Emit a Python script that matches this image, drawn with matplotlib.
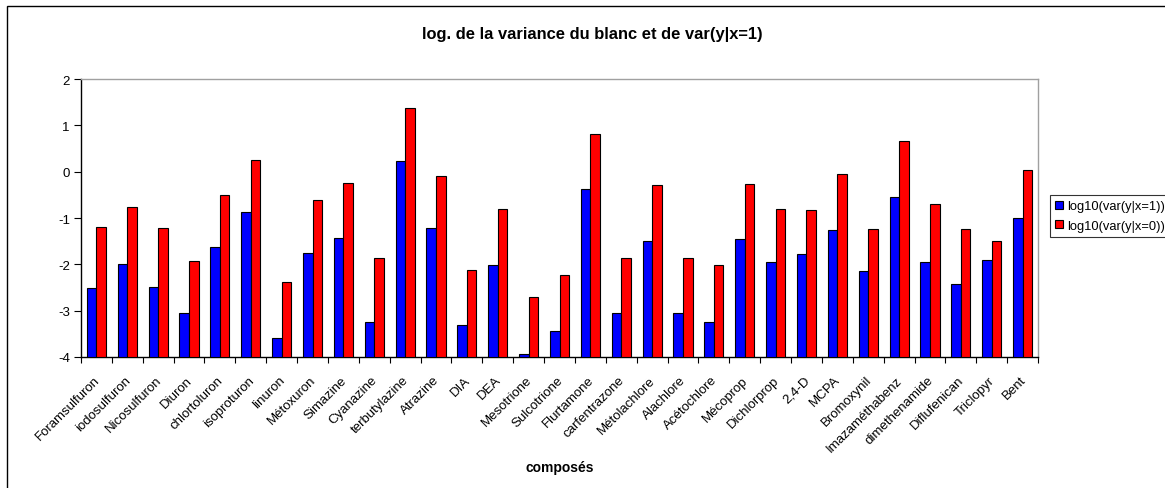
import matplotlib
matplotlib.use("Agg")
import matplotlib.pyplot as plt
import matplotlib.transforms as mtransforms
import numpy as np
from matplotlib.patches import Rectangle

plt.rcParams['font.family'] = ['Liberation Sans', 'DejaVu Sans']

categories = ["Foramsulfuron", "iodosulfuron", "Nicosulfuron", "Diuron", "chlortoluron",
              "isoproturon", "linuron", "Métoxuron", "Simazine", "Cyanazine", "terbutylazine",
              "Atrazine", "DIA", "DEA", "Mesotrione", "Sulcotrione", "Flurtamone",
              "carfentrazone", "Métolachlore", "Alachlore", "Acétochlore", "Mécoprop",
              "Dichlorprop", "2,4-D", "MCPA", "Bromoxynil", "Imazaméthabenz", "dimethenamide",
              "Diflufenican", "Triclopyr", "Bent"]

var_x1 = [-2.50, -1.99, -2.48, -3.04, -1.63, -0.87, -3.59, -1.76, -1.44, -3.25, 0.23,
          -1.22, -3.32, -2.01, -3.94, -3.43, -0.37, -3.04, -1.49, -3.04, -3.24, -1.45,
          -1.94, -1.78, -1.26, -2.14, -0.55, -1.94, -2.43, -1.91, -0.99]

var_x0 = [-1.19, -0.76, -1.22, -1.92, -0.50, 0.25, -2.38, -0.61, -0.24, -1.86, 1.38,
          -0.09, -2.12, -0.81, -2.71, -2.23, 0.82, -1.86, -0.29, -1.86, -2.01, -0.26,
          -0.81, -0.83, -0.04, -1.24, 0.67, -0.69, -1.24, -1.49, 0.04]

series_labels = ["log10(var(y|x=1))", "log10(var(y|x=0))"]
title = "log. de la variance du blanc et de var(y|x=1)"
xlabel = "composés"
yticks = [-4, -3, -2, -1, 0, 1, 2]

W, H = 1165, 489
fig = plt.figure(figsize=(W / 100, H / 100), dpi=100)
fig.patch.set_facecolor("white")

# outer chart-area frame
fig.patches.append(Rectangle((7 / W, -0.1), 1.2, 1 - 7 / H + 0.1, transform=fig.transFigure,
                             fill=False, edgecolor="black", linewidth=1.0, zorder=0))

L, R, T, B = 81, 1038, 80, 358
ax = fig.add_axes([L / W, 1 - B / H, (R - L) / W, (B - T) / H])

n = len(categories)
x = np.arange(n)
bw = 0.31
ax.bar(x - bw / 2, np.array(var_x1) - (-4), bw, bottom=-4, color="#0000FF",
       edgecolor="black", linewidth=0.8, label=series_labels[0], zorder=3)
ax.bar(x + bw / 2, np.array(var_x0) - (-4), bw, bottom=-4, color="#FF0000",
       edgecolor="black", linewidth=0.8, label=series_labels[1], zorder=3)

ax.set_xlim(-0.5, n - 0.5)
ax.set_ylim(-4, 2)
ax.set_yticks(yticks)
ax.set_yticklabels([str(v) for v in yticks], fontsize=9.5)
ax.set_xticks(np.arange(n + 1) - 0.5)
ax.set_xticklabels([])
ax.set_xticks(x, minor=True)
ax.set_xticklabels(categories, minor=True, rotation=45, ha="right", va="top",
                   rotation_mode="anchor", fontsize=9.5)
ax.tick_params(axis="x", which="minor", length=0, pad=12)
ax.tick_params(axis="x", which="major", length=4, width=0.8, direction="out", color="black")
ax.tick_params(axis="y", length=5, width=0.8, direction="out", pad=3)

offset = mtransforms.ScaledTranslation(-3 / 100, 0, fig.dpi_scale_trans)
for lab in ax.get_xticklabels(minor=True):
    lab.set_transform(lab.get_transform() + offset)

for s in ["top", "right"]:
    ax.spines[s].set_color("#A0A0A0")
    ax.spines[s].set_linewidth(1.0)
for s in ["left", "bottom"]:
    ax.spines[s].set_color("black")
    ax.spines[s].set_linewidth(1.0)

fig.text(592 / W, 1 - 35 / H, title, ha="center", va="center", fontsize=11.9, fontweight="bold")
fig.text((L + R) / 2 / W, 1 - 468 / H, xlabel, ha="center", va="center", fontsize=10, fontweight="bold")

leg = fig.legend(loc="upper left", bbox_to_anchor=(1050 / W, 1 - 196 / H), fontsize=9.3,
                 frameon=True, fancybox=False, shadow=False, borderpad=0.4,
                 handlelength=0.6, handleheight=0.6, handletextpad=0.35, labelspacing=0.6,
                 borderaxespad=0)
leg.get_frame().set_edgecolor("black")
leg.get_frame().set_linewidth(0.8)
for h in leg.legend_handles:
    h.set_linewidth(0.8)

fig.savefig("out.png", dpi=100)
